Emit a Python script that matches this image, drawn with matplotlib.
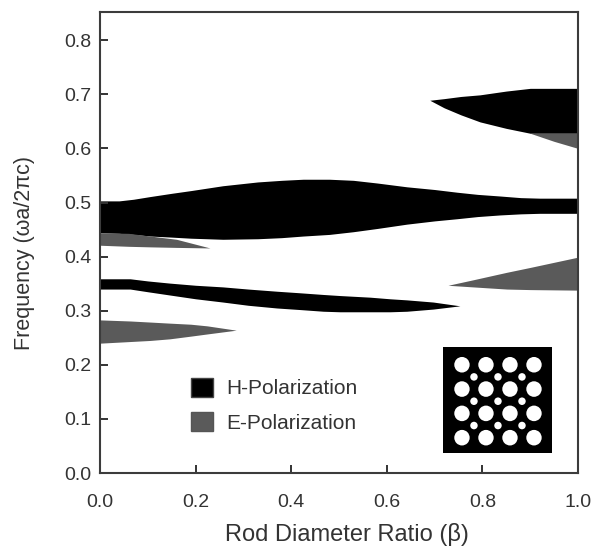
import matplotlib
matplotlib.use("Agg")
import matplotlib.pyplot as plt
from matplotlib.patches import Circle, Patch

plt.rcParams["font.family"] = ["Liberation Sans", "DejaVu Sans"]

# main H-polarization gap
h_main_x = [0.0, 0.04, 0.07, 0.105, 0.15, 0.19, 0.257, 0.33, 0.38, 0.425, 0.48, 0.53, 0.58, 0.642, 0.7, 0.747, 0.79, 0.837, 0.88, 0.92, 1.0]
h_main_top = [0.503, 0.503, 0.506, 0.511, 0.517, 0.522, 0.531, 0.538, 0.541, 0.543, 0.543, 0.541, 0.536, 0.529, 0.524, 0.519, 0.515, 0.512, 0.509, 0.508, 0.508]
h_main_bot = [0.444, 0.443, 0.441, 0.438, 0.436, 0.434, 0.432, 0.433, 0.435, 0.438, 0.441, 0.446, 0.452, 0.46, 0.466, 0.47, 0.474, 0.477, 0.479, 0.48, 0.48]

# upper H-polarization gap
h_up_x = [0.69, 0.72, 0.755, 0.795, 0.85, 0.90, 0.95, 1.0]
h_up_top = [0.689, 0.692, 0.696, 0.699, 0.706, 0.711, 0.711, 0.711]
h_up_bot = [0.689, 0.675, 0.662, 0.649, 0.637, 0.628, 0.628, 0.628]

# lower H-polarization gap
h_low_x = [0.0, 0.063, 0.1, 0.146, 0.2, 0.257, 0.31, 0.37, 0.42, 0.467, 0.502, 0.565, 0.607, 0.642, 0.697, 0.753]
h_low_top = [0.359, 0.359, 0.355, 0.351, 0.347, 0.344, 0.34, 0.336, 0.333, 0.33, 0.328, 0.325, 0.322, 0.32, 0.316, 0.309]
h_low_bot = [0.34, 0.34, 0.335, 0.329, 0.322, 0.316, 0.31, 0.305, 0.302, 0.299, 0.298, 0.298, 0.298, 0.299, 0.303, 0.309]

# E-polarization gaps
e_a_x = [0.0, 0.063, 0.105, 0.146, 0.19, 0.224, 0.285]
e_a_top = [0.283, 0.281, 0.279, 0.277, 0.275, 0.272, 0.264]
e_a_bot = [0.24, 0.243, 0.245, 0.248, 0.253, 0.257, 0.264]

e_b_x = [0.0, 0.06, 0.105, 0.16, 0.23]
e_b_top = [0.444, 0.443, 0.438, 0.432, 0.416]
e_b_bot = [0.421, 0.419, 0.418, 0.417, 0.416]

e_c_x = [0.728, 0.78, 0.851, 0.9, 1.0]
e_c_top = [0.347, 0.357, 0.371, 0.38, 0.399]
e_c_bot = [0.347, 0.344, 0.34, 0.339, 0.338]

e_d_x = [0.9, 0.95, 1.0]
e_d_top = [0.628, 0.628, 0.628]
e_d_bot = [0.628, 0.613, 0.6]

x_ticks = [0.0, 0.2, 0.4, 0.6, 0.8, 1.0]
y_ticks = [0.0, 0.1, 0.2, 0.3, 0.4, 0.5, 0.6, 0.7, 0.8]

# inset lattice, in units of the rod spacing
big_rods = [0, 1, 2, 3]
small_rods = [0.5, 1.5, 2.5]

H_COLOR = "black"
E_COLOR = "#5a5a5a"
INK = "#333333"

W, H = 595, 548
fig = plt.figure(figsize=(W / 100, H / 100), dpi=100)
ax = fig.add_axes([100 / W, 1 - 473 / H, 478 / W, 461 / H])

for x, top, bot in [(h_main_x, h_main_top, h_main_bot),
                    (h_up_x, h_up_top, h_up_bot),
                    (h_low_x, h_low_top, h_low_bot)]:
    ax.fill_between(x, bot, top, color=H_COLOR, lw=0)

for x, top, bot in [(e_a_x, e_a_top, e_a_bot),
                    (e_b_x, e_b_top, e_b_bot),
                    (e_c_x, e_c_top, e_c_bot),
                    (e_d_x, e_d_top, e_d_bot)]:
    ax.fill_between(x, bot, top, color=E_COLOR, lw=0)

ax.set_xlim(0, 1)
ax.set_ylim(0, 461 / 541)
ax.set_xticks(x_ticks)
ax.set_yticks(y_ticks)
ax.xaxis.set_major_formatter("{x:.1f}")
ax.yaxis.set_major_formatter("{x:.1f}")
ax.tick_params(direction="in", length=6, width=1.4, color=INK, labelcolor=INK, labelsize=14)
ax.tick_params(axis="x", pad=15)
ax.tick_params(axis="y", pad=6)
for s in ax.spines.values():
    s.set_linewidth(1.5)
    s.set_color("#3c3c3c")

ax.set_xlabel("Rod Diameter Ratio (β)", fontsize=17, color=INK, labelpad=8.5, x=0.517)
ax.set_ylabel("Frequency (ωa/2πc)", fontsize=15.5, color=INK, labelpad=21, y=0.477)

handles = [Patch(facecolor=H_COLOR, edgecolor="#444444", label="H-Polarization"),
           Patch(facecolor=E_COLOR, edgecolor="#555555", label="E-Polarization")]
ax.legend(handles=handles, loc="upper left", bbox_to_anchor=(0.19, 0.206), frameon=False,
          fontsize=15, labelcolor=INK, handlelength=1.05, handleheight=1.0,
          handletextpad=0.67, labelspacing=0.67, borderpad=0, borderaxespad=0)

inset = fig.add_axes([443 / W, 1 - 453 / H, 109 / W, 106 / H])
inset.set_facecolor("black")
inset.set_xlim(-0.79, 3.75)
inset.set_ylim(3.63, -0.73)
inset.set_xticks([])
inset.set_yticks([])
for s in inset.spines.values():
    s.set_visible(False)
for cx in big_rods:
    for cy in big_rods:
        inset.add_patch(Circle((cx, cy), 0.32, color="white", lw=0))
for cx in small_rods:
    for cy in small_rods:
        inset.add_patch(Circle((cx, cy), 0.155, color="white", lw=0))

fig.savefig("out.png", dpi=100)
